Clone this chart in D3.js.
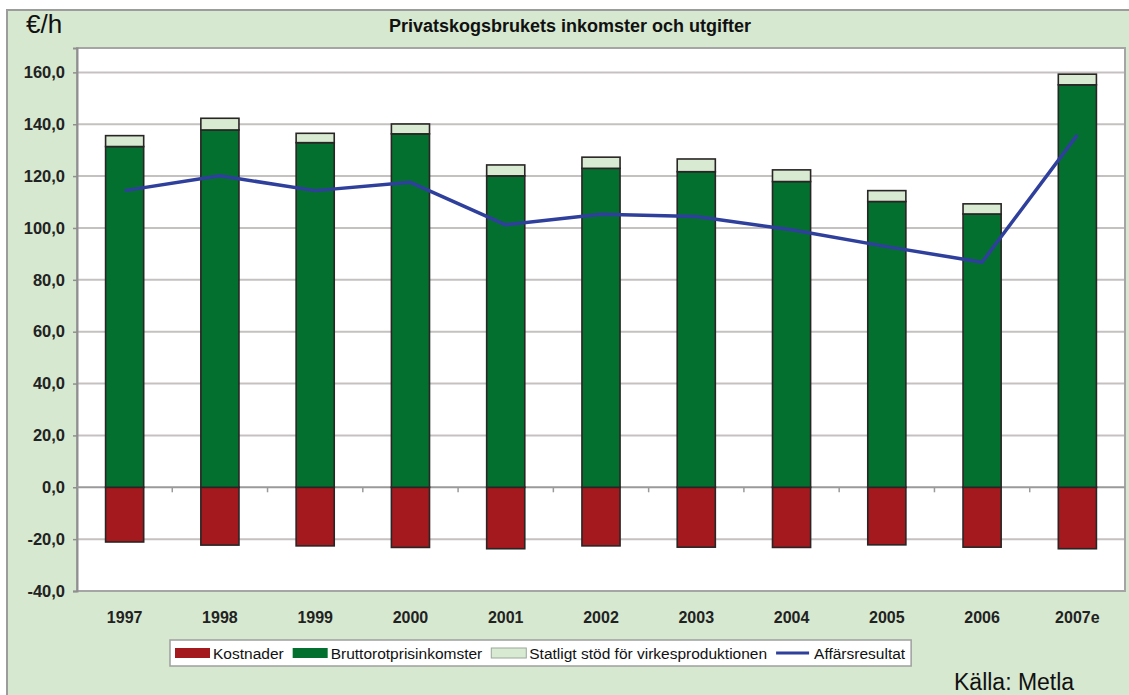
<!DOCTYPE html>
<html>
<head>
<meta charset="utf-8">
<script src="https://cdn.jsdelivr.net/npm/d3@7"></script>
<style>
  body { margin: 0; background: #fff; }
  svg { display: block; font-family: "Liberation Sans", Arial, sans-serif; }
</style>
</head>
<body>
<div id="chart"></div>
<script>
// data
const years = ["1997", "1998", "1999", "2000", "2001", "2002", "2003", "2004", "2005", "2006", "2007e"]
const kostnader = [-21.1, -22.3, -22.6, -23.2, -23.7, -22.6, -23.1, -23.2, -22.2, -23.1, -23.7]
const brutto = [131.4, 137.8, 132.9, 136.3, 120.1, 123.0, 121.7, 117.9, 110.2, 105.4, 155.2]
const stod = [4.2, 4.5, 3.6, 3.8, 4.2, 4.3, 4.9, 4.5, 4.2, 3.9, 4.1]
const resultat = [114.4, 120.1, 114.4, 117.6, 101.2, 105.3, 104.4, 99.3, 92.8, 86.8, 135.9]
const yTicks = [-40, -20, 0, 20, 40, 60, 80, 100, 120, 140, 160]

const colors = {kost: "#a3191e", brutto: "#04702f", stod: "#d8ead2", line: "#2f3f9c"}

// layout
const W = 1129, H = 695
const plot = {left: 77, right: 1125, top: 48, bottom: 591}

const svg = d3.select("#chart").append("svg")
  .attr("width", W)
  .attr("height", H)

// outer frame
svg.append("rect")
  .attr("x", 7).attr("y", 10)
  .attr("width", W + 20).attr("height", H + 20)
  .attr("fill", "#d6e8cf")
  .attr("stroke", "#9c9c9c")
  .attr("stroke-width", 2)

svg.append("rect")
  .attr("x", plot.left).attr("y", plot.top)
  .attr("width", plot.right - plot.left)
  .attr("height", plot.bottom - plot.top)
  .attr("fill", "#fff")

const x = d3.scaleBand()
  .domain(years)
  .range([plot.left, plot.right])
  .paddingInner(0.6)
  .paddingOuter(0.3)

const y = d3.scaleLinear()
  .domain([-40, 169.4])
  .range([plot.bottom, plot.top])

const fmt = d3.formatLocale({decimal: ",", thousands: " ", grouping: [3], currency: ["", ""], minus: "-"}).format(".1f")

// gridlines
svg.append("g")
  .selectAll("line")
  .data(yTicks.filter(d => d !== 0 && d !== -40))
  .join("line")
    .attr("x1", plot.left).attr("x2", plot.right)
    .attr("y1", d => y(d)).attr("y2", d => y(d))
    .attr("stroke", "#c6c1c1")
    .attr("stroke-width", 2)

// plot border
svg.append("rect")
  .attr("x", plot.left).attr("y", plot.top)
  .attr("width", plot.right - plot.left)
  .attr("height", plot.bottom - plot.top)
  .attr("fill", "none")
  .attr("stroke", "#a5a5a5")
  .attr("stroke-width", 2)

// y axis
const yAxis = svg.append("g")
  .attr("transform", "translate(" + plot.left + ",0)")
  .call(d3.axisLeft(y).tickValues(yTicks).tickFormat(fmt).tickSize(4).tickPadding(8))
yAxis.select(".domain").attr("stroke", "#8f8f8f").attr("stroke-width", 2)
yAxis.selectAll(".tick line").attr("stroke", "#8f8f8f").attr("stroke-width", 1.5)
yAxis.selectAll("text")
  .attr("fill", "#222")
  .style("font-size", "16.5px")
  .style("font-weight", "bold")
  .style("font-family", "'Liberation Sans', Arial, sans-serif")

// zero line with category ticks
const step = x.step()
svg.append("line")
  .attr("x1", plot.left).attr("x2", plot.right)
  .attr("y1", y(0)).attr("y2", y(0))
  .attr("stroke", "#9a9a9a")
  .attr("stroke-width", 2)
svg.append("g")
  .selectAll("line")
  .data(years.slice(1))
  .join("line")
    .attr("x1", d => x(d) - step * x.paddingInner() / 2)
    .attr("x2", d => x(d) - step * x.paddingInner() / 2)
    .attr("y1", y(0)).attr("y2", y(0) + 5)
    .attr("stroke", "#9a9a9a")
    .attr("stroke-width", 1.5)

// x labels
svg.append("g")
  .selectAll("text")
  .data(years)
  .join("text")
    .attr("x", d => x(d) + x.bandwidth() / 2)
    .attr("y", 623)
    .attr("text-anchor", "middle")
    .attr("fill", "#222")
    .style("font-size", "16px")
    .style("font-weight", "bold")
    .text(d => d)

// bars
const bars = svg.append("g")
const barStyle = sel => sel
  .attr("stroke", "#2a2525")
  .attr("stroke-width", 1.6)

bars.selectAll(".kost")
  .data(years)
  .join("rect")
    .attr("class", "kost")
    .attr("x", d => x(d))
    .attr("width", x.bandwidth())
    .attr("y", y(0))
    .attr("height", (d, i) => y(kostnader[i]) - y(0))
    .attr("fill", colors.kost)
    .call(barStyle)

bars.selectAll(".brutto")
  .data(years)
  .join("rect")
    .attr("class", "brutto")
    .attr("x", d => x(d))
    .attr("width", x.bandwidth())
    .attr("y", (d, i) => y(brutto[i]))
    .attr("height", (d, i) => y(0) - y(brutto[i]))
    .attr("fill", colors.brutto)
    .call(barStyle)

bars.selectAll(".stod")
  .data(years)
  .join("rect")
    .attr("class", "stod")
    .attr("x", d => x(d))
    .attr("width", x.bandwidth())
    .attr("y", (d, i) => y(brutto[i] + stod[i]))
    .attr("height", (d, i) => y(brutto[i]) - y(brutto[i] + stod[i]))
    .attr("fill", colors.stod)
    .call(barStyle)

// line
const line = d3.line()
  .x((d, i) => x(years[i]) + x.bandwidth() / 2)
  .y(d => y(d))

svg.append("path")
  .datum(resultat)
  .attr("d", line)
  .attr("fill", "none")
  .attr("stroke", colors.line)
  .attr("stroke-width", 3.5)
  .attr("stroke-linejoin", "round")

// titles
svg.append("text")
  .attr("x", 26).attr("y", 33)
  .style("font-size", "26px")
  .attr("fill", "#111")
  .text("€/h")

svg.append("text")
  .attr("x", 570).attr("y", 32)
  .attr("text-anchor", "middle")
  .style("font-size", "18px")
  .style("font-weight", "bold")
  .attr("fill", "#111")
  .text("Privatskogsbrukets inkomster och utgifter")

svg.append("text")
  .attr("x", 954).attr("y", 690)
  .style("font-size", "23px")
  .attr("fill", "#111")
  .text("Källa: Metla")

// legend
const legendItems = [
  {label: "Kostnader", color: colors.kost, type: "rect"},
  {label: "Bruttorotprisinkomster", color: colors.brutto, type: "rect"},
  {label: "Statligt stöd för virkesproduktionen", color: colors.stod, type: "rect"},
  {label: "Affärsresultat", color: colors.line, type: "line"}
]

const legend = svg.append("g")
const legendBox = legend.append("rect")
  .attr("x", 170).attr("y", 640)
  .attr("height", 26)
  .attr("fill", "#fff")
  .attr("stroke", "#9f9f9f")
  .attr("stroke-width", 1.5)

let lx = 175
legendItems.forEach(item => {
  if (item.type === "rect") {
    legend.append("rect")
      .attr("x", lx).attr("y", 648)
      .attr("width", 35).attr("height", 10)
      .attr("fill", item.color)
      .attr("stroke", item.color === colors.stod ? "#9aa898" : "none")
  } else {
    legend.append("line")
      .attr("x1", lx).attr("x2", lx + 33)
      .attr("y1", 653).attr("y2", 653)
      .attr("stroke", item.color)
      .attr("stroke-width", 3)
  }
  const t = legend.append("text")
    .attr("x", lx + 38).attr("y", 658.5)
    .style("font-size", "15.5px")
    .attr("fill", "#111")
    .text(item.label)
  lx += 38 + t.node().getComputedTextLength() + 9
})
legendBox.attr("width", lx - 170 - 3)
</script>
</body>
</html>
